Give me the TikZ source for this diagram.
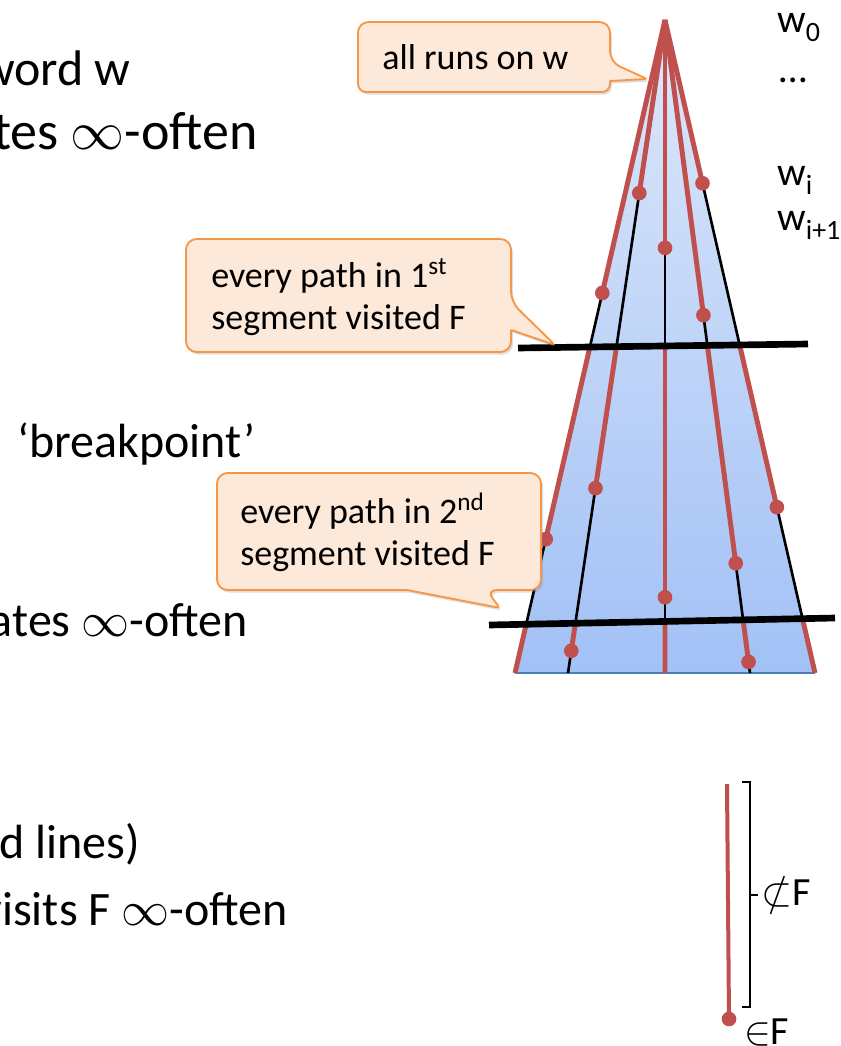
\documentclass[tikz,border=0pt]{standalone}
\usepackage{fontspec}
\usepackage{unicode-math}
\setmainfont{Carlito}
\setmathfont{Latin Modern Math}
\usetikzlibrary{calc,shadows}
\definecolor{runred}{HTML}{C0504D}
\definecolor{noteline}{HTML}{F79646}
\definecolor{notefill}{HTML}{FDE9D9}
\definecolor{conetop}{HTML}{DDE8FA}
\definecolor{conebot}{HTML}{A2C1F6}
\definecolor{conebase}{HTML}{4A7EBB}
\tikzset{
  tree edge/.style={black,line width=2pt},
  run edge/.style={runred,line width=3.7pt},
  cut line/.style={black,line width=5pt},
  run dot/.style={circle,fill=runred,inner sep=0pt,minimum size=11pt},
  note shape/.style={
    draw=noteline,fill=notefill,line width=1.4pt,rounded corners=8pt,
    drop shadow={opacity=0.25,shadow xshift=1.5pt,shadow yshift=-2pt}
  },
  note text/.style={font=\fontsize{27}{31.5}\selectfont,align=left,inner sep=0pt,anchor=west},
  big text/.style={font=\fontsize{36}{43}\selectfont,inner sep=0pt},
  word label/.style={font=\fontsize{30}{36}\selectfont,inner sep=0pt,anchor=base west}
}
\begin{document}
\begin{tikzpicture}[x=0.75pt,y=-0.75pt]
  \useasboundingbox (0,0) rectangle (840,1046);
  \clip (0,0) rectangle (840,1046);
  % the run tree
  \coordinate (apex) at (665,20);
  \foreach \n/\x in {1/515,2/568,3/665,4/750,5/815}
    \coordinate (b\n) at (\x,673);
  \fill[top color=conetop,bottom color=conebot] (apex) -- (b1) -- (b5) -- cycle;
  \draw[conebase,line width=1.5pt] (b1) -- (b5);
  \foreach \n in {1,...,5}
    \draw[tree edge] (apex) -- (b\n);
  % 1st segment
  \foreach \n/\t in {1/.418,2/.265,3/.349,4/.452,5/.250}{
    \node[run dot] (d1\n) at ($(apex)!\t!(b\n)$) {};
    \draw[run edge] (apex) -- (d1\n.center);
  }
  % 2nd segment
  \foreach \n/\t in {1/.795,2/.717,3/.884,4/.832,5/.746}{
    \coordinate (s2\n) at ($(apex)!.499!(b\n)$);
    \node[run dot] (d2\n) at ($(apex)!\t!(b\n)$) {};
    \draw[run edge] (s2\n) -- (d2\n.center);
  }
  % 3rd segment
  \foreach \n in {1,...,5}
    \coordinate (s3\n) at ($(apex)!.922!(b\n)$);
  \node[run dot] (d32) at ($(apex)!.966!(b2)$) {};
  \node[run dot] (d34) at ($(apex)!.983!(b4)$) {};
  \draw[run edge] (s31) -- (b1) (s33) -- (b3) (s35) -- (b5)
    (s32) -- (d32.center) (s34) -- (d34.center);
  % breakpoints
  \coordinate (c1l) at (518,348); \coordinate (c1r) at (808,344);
  \coordinate (c2l) at (489,625); \coordinate (c2r) at (835,618);
  \draw[cut line] (c1l) -- (c1r) (c2l) -- (c2r);
  % callouts
  \draw[note shape] (358,57) |- (610,22) -- (610,62) [rounded corners=2pt] -- (647,79)
    [rounded corners=0.5pt] -- (610,81) [rounded corners=6pt] -- (610,92) -- (358,92) -- cycle;
  \node[note text] (allruns) at (382,57) {all runs on w};
  \draw[note shape] (186,295) |- (511,239) -- (511,302) [rounded corners=3pt] -- (555,345)
    [rounded corners=0.5pt] -- (511,330) [rounded corners=8pt] -- (511,352) -- (186,352) -- cycle;
  \node[note text] (seg1) at (211,297) {every path in 1\textsuperscript{st}\\segment visited F};
  \draw[note shape] (217,531) |- (541,473) |- (486,590) [rounded corners=3pt] -- (500,608)
    [rounded corners=0.5pt] -- (407,590) [rounded corners=8pt] -| (217,531) -- cycle;
  \node[note text] (seg2) at (240,532) {every path in 2\textsuperscript{nd}\\segment visited F};
  % word letters
  \node[word label] (w0) at (777,32) {w\textsubscript{0}};
  \node[word label] (wdots) at (779,82) {…};
  \node[word label] (wi) at (777,185) {w\textsubscript{i}};
  \node[word label] (wi1) at (777,230) {w\textsubscript{i+1}};
  % slide text
  \node[big text,font=\fontsize{37.5}{45}\selectfont,anchor=base east] (wordw) at (131,85) {word w};
  \node[big text,font=\fontsize{40.5}{48}\selectfont,anchor=base east] (often1) at (258,149) {tes $\infty$-often};
  \node[big text,anchor=base west] (brk) at (17,457) {‘breakpoint’};
  \node[big text,anchor=base east] (often2) at (248,636) {ates $\infty$-often};
  \node[big text,anchor=base east] (lines) at (140,858) {d lines)};
  \node[big text,anchor=base east] (often3) at (288,925) {visits F $\infty$-often};
  % single run
  \coordinate (rtop) at (727,784);
  \node[run dot] (rend) at (729,1019) {};
  \draw[runred,line width=3pt] (rtop) -- (rend.center);
  \draw[line width=1.5pt] (742,782) -| (750,1007) -- (742,1007)
    (750,895) -- (758,895);
  \node[word label,anchor=west] (notin) at (761,895) {$\nsubset$F};
  \node[word label,anchor=west] (isin) at (744,1033) {$\in$F};
\end{tikzpicture}
\end{document}
